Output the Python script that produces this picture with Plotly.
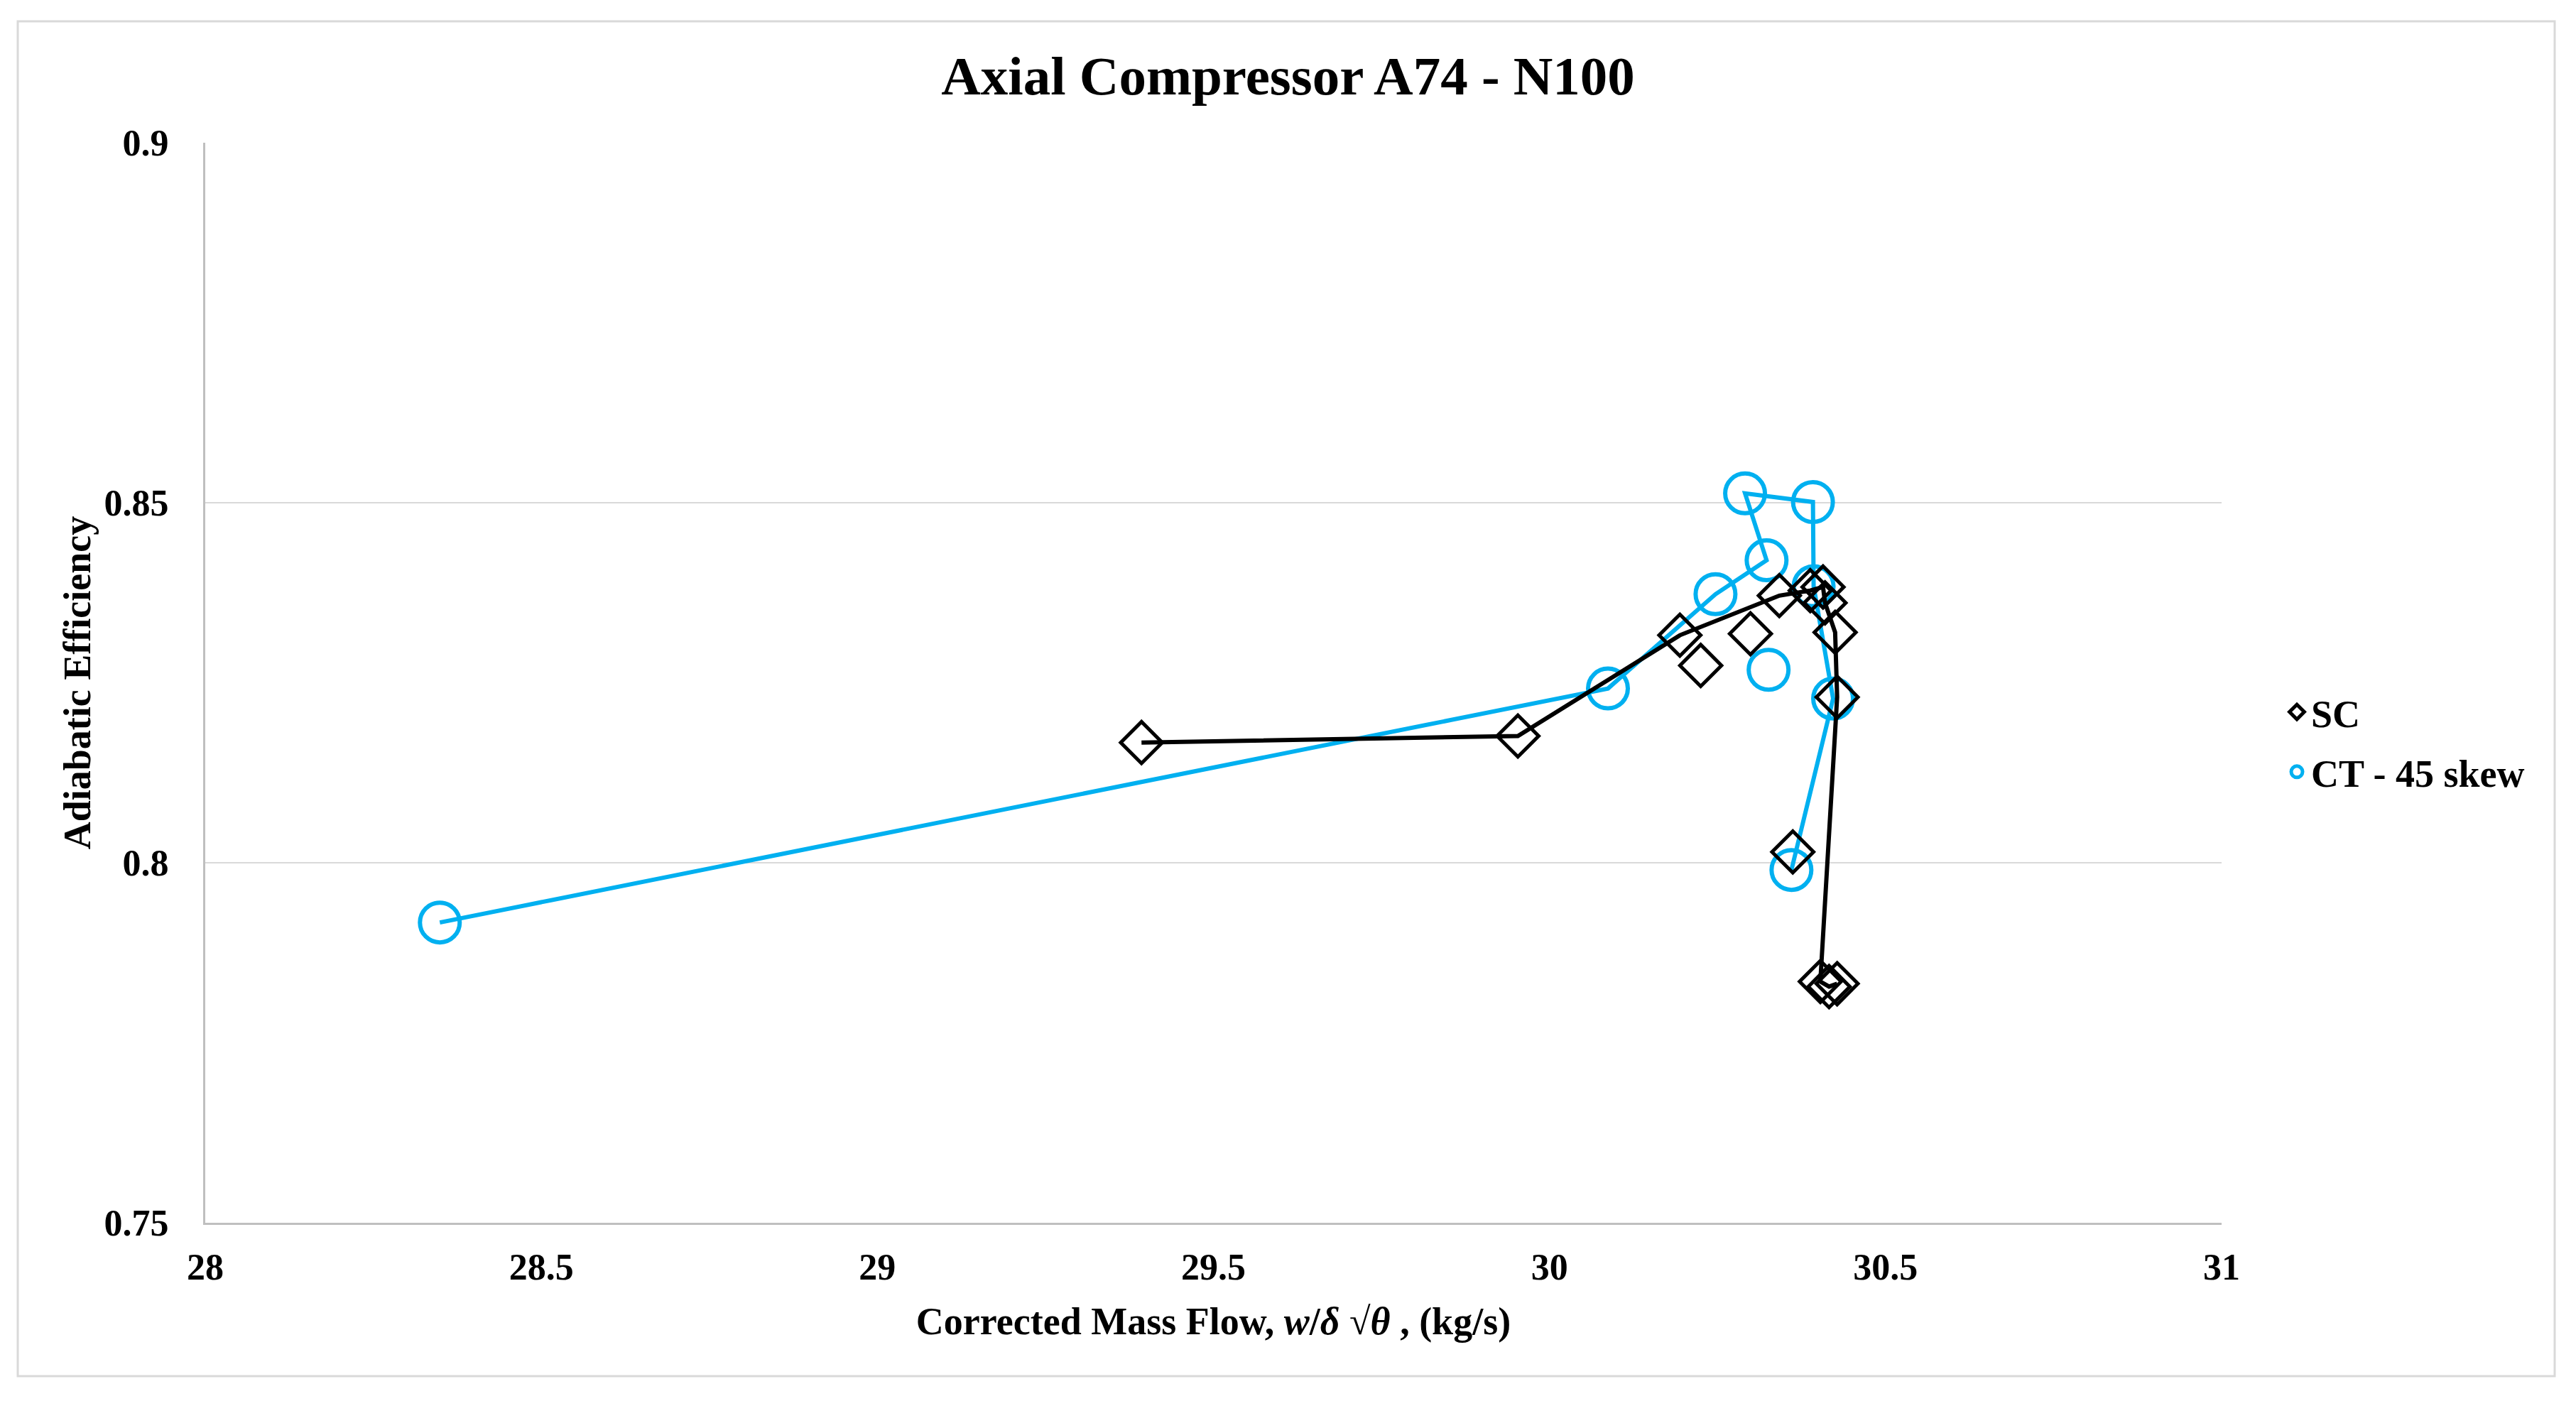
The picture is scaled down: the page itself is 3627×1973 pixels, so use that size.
import plotly.graph_objects as go

# ---- data ----
sc_name = "SC"
sc_x = [29.393, 29.953, 30.194, 30.342, 30.388, 30.407, 30.410, 30.425, 30.428, 30.403, 30.416, 30.428,
        None, 30.225, None, 30.299, None, 30.362]
sc_y = [0.8167, 0.8176, 0.8316, 0.8371, 0.8378, 0.8383, 0.8361, 0.8320, 0.8230, 0.7835, 0.7828, 0.7832,
        None, 0.8274, None, 0.8318, None, 0.8015]

ct_name = "CT - 45 skew"
ct_x = [28.349, 30.087, 30.247, 30.323, 30.291, 30.392, 30.393, 30.422, 30.360, None, 30.326]
ct_y = [0.7917, 0.8242, 0.8373, 0.8420, 0.8513, 0.8501, 0.8384, 0.8228, 0.7990, None, 0.8268]

x_ticks = [28, 28.5, 29, 29.5, 30, 30.5, 31]
x_tick_labels = ["28", "28.5", "29", "29.5", "30", "30.5", "31"]
y_ticks = [0.75, 0.8, 0.85, 0.9]
y_tick_labels = ["0.75", "0.8", "0.85", "0.9"]

title_text = "Axial Compressor A74 - N100"
x_title = "Corrected Mass Flow, <i>w</i>/<i>δ</i> √<i>θ</i> , (kg/s)"
y_title = "Adiabatic Efficiency"

BLUE = "#00B0F0"
FONT = "Liberation Serif"

fig = go.Figure()

# CT drawn first (underneath)
fig.add_trace(go.Scatter(
    x=ct_x, y=ct_y, mode="lines+markers", name=ct_name, showlegend=False,
    line=dict(color=BLUE, width=6),
    marker=dict(symbol="circle-open", size=56, color=BLUE, line=dict(width=6, color=BLUE)),
    connectgaps=False,
))
fig.add_trace(go.Scatter(
    x=sc_x, y=sc_y, mode="lines+markers", name=sc_name, showlegend=False,
    line=dict(color="black", width=6),
    marker=dict(symbol="diamond-open", size=45, color="black", line=dict(width=5, color="black")),
    connectgaps=False,
))
# legend entries (markers only, as in the reference)
fig.add_trace(go.Scatter(
    x=[None], y=[None], mode="markers", name=sc_name, legendgroup="sc",
    marker=dict(symbol="diamond-open", size=16, color="black", line=dict(width=5, color="black")),
))
fig.add_trace(go.Scatter(
    x=[None], y=[None], mode="markers", name=ct_name, legendgroup="ct",
    marker=dict(symbol="circle-open", size=16, color=BLUE, line=dict(width=5, color=BLUE)),
))

L, R, T, B = 289, 499, 201, 251
W, H = 3627, 1973
pw = W - L - R
ph = H - T - B

fig.update_layout(
    width=W, height=H,
    margin=dict(l=L, r=R, t=T, b=B, autoexpand=False),
    paper_bgcolor="white", plot_bgcolor="white",
    font=dict(family=FONT, color="black", size=52, weight="bold"),
    title=dict(text=title_text, x=0.5, xanchor="center", xref="container",
               y=1 - 106 / H, yref="container", yanchor="middle",
               font=dict(family=FONT, size=77, color="black", weight="bold")),
    showlegend=True,
    legend=dict(x=(3214 - L) / pw, xanchor="left", y=(H - B - 1045) / ph, yanchor="middle",
                font=dict(family=FONT, size=54, color="black", weight="bold"),
                bgcolor="rgba(0,0,0,0)", itemsizing="trace", tracegroupgap=11),
    xaxis=dict(
        range=[28, 31], tickvals=x_ticks, ticktext=x_tick_labels,
        showgrid=False, zeroline=False,
        showline=True, linecolor="#BFBFBF", linewidth=3,
        ticks="", ticklabelstandoff=15,
        tickfont=dict(family=FONT, size=52, color="black", weight="bold"),
        title=dict(text=x_title, standoff=29,
                   font=dict(family=FONT, size=54, color="black", weight="bold")),
    ),
    yaxis=dict(
        range=[0.75, 0.9], tickvals=y_ticks, ticktext=y_tick_labels,
        showgrid=True, gridcolor="#D9D9D9", gridwidth=2, zeroline=False,
        showline=True, linecolor="#BFBFBF", linewidth=3,
        ticks="", ticklabelstandoff=38,
        tickfont=dict(family=FONT, size=52, color="black", weight="bold"),
        title=dict(text=y_title, standoff=2,
                   font=dict(family=FONT, size=54, color="black", weight="bold")),
    ),
)

# outer chart border
fig.add_shape(type="rect", xref="paper", yref="paper",
              x0=(25 - L) / pw, x1=(3597 - L) / pw,
              y0=(H - B - 1938) / ph, y1=(H - B - 30) / ph,
              line=dict(color="#D9D9D9", width=3), fillcolor="rgba(0,0,0,0)", layer="below")

fig.write_html("out.html")
